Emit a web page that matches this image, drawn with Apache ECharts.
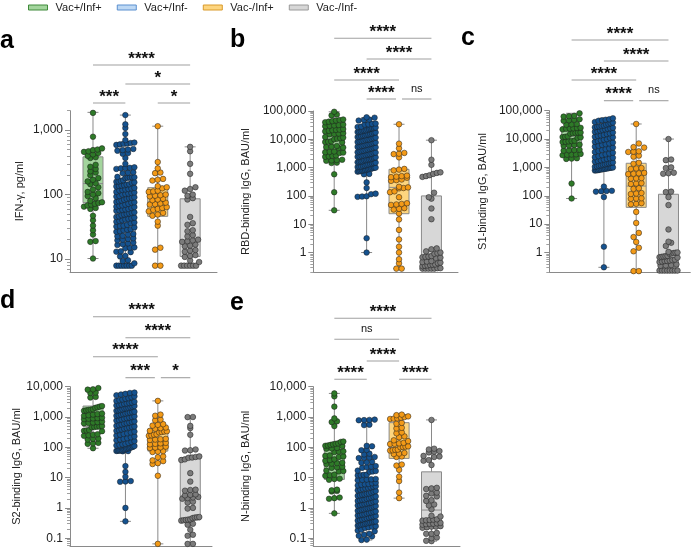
<!DOCTYPE html>
<html><head><meta charset="utf-8">
<script src="https://cdn.jsdelivr.net/npm/echarts@6/dist/echarts.min.js"></script>
<style>html,body{margin:0;padding:0;background:#fff}#chart{width:691px;height:548px}</style>
</head><body><div id="chart"></div>
<script>
// ---------------- DATA ----------------
const groups = ['Vac+/Inf+', 'Vac+/Inf-', 'Vac-/Inf+', 'Vac-/Inf-'];

// Panel a: IFN-γ, pg/ml
const ifnTicks = [10, 100, 1000];
const ifnGreen = [1850, 790, 520, 500, 490, 470, 460, 440, 420, 400, 380, 370, 290, 270, 250, 230, 220, 200, 180, 170, 160, 150, 145, 130, 120, 110, 105, 100, 95, 88, 80, 76, 74, 72, 70, 68, 65, 62, 60, 47, 40, 33, 28, 24, 19, 18.5, 10.2];
const ifnBlue = [1710, 1230, 1080, 870, 700, 640, 630, 620, 615, 600, 590, 510, 500, 490, 480, 440, 430, 370, 300, 265, 260, 258, 255, 250, 222, 218, 214,
  188, 186, 185, 184, 182, 180, 160, 158, 163, 155, 167, 152, 140, 138, 143, 136, 145, 134, 122, 120, 125, 118, 127, 116,
  106, 104, 108, 102, 110, 100, 91, 89, 93, 88, 95, 86, 79, 77, 81, 76, 83, 75, 68, 67, 70, 65, 72, 64, 59, 58, 60, 57, 62, 56,
  51, 50, 52, 49, 53, 48, 44, 43, 45, 42, 46, 41, 38, 37, 39, 36, 40, 32.5, 32, 33, 31, 34, 28, 27, 28.5, 26.5, 29,
  24, 23, 24.5, 22.5, 20.5, 20, 21, 19.5, 17.5, 17, 18, 16.5, 15.2, 15, 14.7, 13.2, 13, 12.8, 11.2, 11, 9.6, 9.3, 8.6,
  7.9, 7.9, 7.9, 7.9, 7.9, 7.9, 7.9];
const ifnOrange = [1150, 320, 255, 220, 215, 175, 170, 165, 135, 130, 125, 115, 112, 110, 100, 98, 96, 94, 86, 84, 82, 75, 73, 71, 70, 64, 62, 60, 58, 55, 52, 49, 47, 38, 33, 15, 14, 7.9, 7.9];
const ifnGray = [550, 470, 300, 210, 130, 122, 115, 100, 96, 88, 84, 45, 36, 34, 28, 27, 23.5, 22.5, 20, 19.5, 19, 18.5, 16.8, 16.2, 15.8, 13.8, 13.5, 13, 11.5, 11.2, 10.8, 9.5, 9, 7.9, 7.9, 7.9, 7.9, 7.9, 7.9];
// [min, Q1, median, Q3, max]
const ifnBox = [[10.2, 75, 148, 385, 1885], [7.9, 22, 50, 150, 1710], [7.9, 46, 77, 128, 1150], [7.9, 11, 19.5, 86, 550]];
const ifnBrackets = [[0, 3, 0, '****'], [1, 3, 1, '*'], [0, 1, 2, '***'], [2, 3, 2, '*']];

// Panel b: RBD-binding IgG
const rbdTicks = [1, 10, 100, 1000, 10000, 100000];
const rbdGreen = [94000, 75000, 70000, 50000, 48000, 46000, 44000, 42000, 40000, 33000, 32000, 31000, 30000, 29000, 23000, 22000, 21500, 21000, 20000, 19000, 16500, 16000, 15500, 15000, 12000, 11500, 11000, 10500, 10000, 8500, 8200, 8000, 7800, 5800, 5500, 5300, 5100, 4900, 3700, 3600, 3500, 3400, 3300, 2700, 2600, 2500, 2400, 1900, 1850, 1800, 1750, 1500, 1450, 580, 135, 31];
const rbdBlue = [60000, 58000, 50000, 48000, 46000, 36000, 35000, 34000, 33000,
  28000, 27000, 26000, 25000, 24500, 24000, 23000, 22000, 21000, 20500, 20000, 19000, 18500, 18000, 17500, 17000, 16000, 15500, 15000, 14500,
  14000, 13500, 13000, 12500, 12000, 11500, 11000, 10500, 10000, 9800, 9500, 9000, 8700, 8400, 8000, 7700, 7400, 7100, 6800, 6500,
  6300, 6000, 5800, 5600, 5400, 5200, 5000, 4800, 4600, 4400, 4200, 4000, 3900, 3700, 3500, 3400, 3300, 3100, 3000, 2900,
  2800, 2700, 2600, 2500, 2400, 2300, 2200, 2100, 2000, 1950, 1900, 1850, 1800, 1700, 1650, 1600, 1550, 1500, 1450, 1400,
  1350, 1300, 1250, 1200, 1150, 1100, 1080, 1050, 1000, 980, 950, 920, 900, 880, 850, 820, 800, 780, 760, 740, 720, 600, 580,
  300, 190, 120, 115, 97, 95, 93, 3.2, 1.0];
const rbdOrange = [34000, 7000, 4800, 3300, 3100, 3000, 2300, 900, 850, 800, 520, 500, 480, 460, 440, 380, 360, 340, 210, 200, 190, 185, 145, 135, 90, 55, 52, 50, 48, 37, 35, 33, 24, 14.8, 6.3, 2.9, 1.6, 1.0, 0.58, 0.42, 0.27, 0.27];
const rbdGray = [9300, 1900, 1250, 680, 650, 600, 540, 500, 470, 130, 90, 80, 36, 15, 1.4, 1.3, 1.1, 1.0, 0.95, 0.9, 0.75, 0.72, 0.7, 0.68, 0.66, 0.64, 0.5, 0.48, 0.46, 0.44, 0.42, 0.38, 0.37, 0.36, 0.35, 0.34, 0.33, 0.28, 0.28, 0.27, 0.27, 0.27, 0.27, 0.27];
const rbdBox = [[31, 3400, 10000, 30000, 94000], [1.0, 1070, 4500, 28000, 58000], [0.27, 23.5, 200, 870, 34000], [0.27, 0.3, 0.7, 100, 9300]];
const rbdBrackets = [[0, 3, 0, '****'], [1, 3, 1, '****'], [0, 2, 2, '****'], [1, 2, 3, '****'], [2, 3, 3, 'ns']];

// Panel c: S1-binding IgG
const s1Ticks = [1, 10, 100, 1000, 10000, 100000];
const s1Green = [81000, 66000, 64000, 62000, 50000, 48000, 46000, 44000, 34000, 33000, 32000, 25000, 24500, 24000, 23500, 23000, 22000, 17000, 16800, 16500, 16000, 15500, 12500, 12000, 11800, 11500, 11000, 8800, 8500, 8300, 8000, 7800, 6400, 6200, 6000, 5800, 4200, 4100, 4000, 3900, 3000, 2900, 2850, 2800, 2700, 2100, 2050, 2000, 270, 80];
const s1Blue = [54000, 50000, 48000, 46000, 44000, 40000, 38000, 36000, 34000, 32000,
  30000, 29000, 28000, 27000, 26000, 25000, 24000, 23000, 22000, 21000, 20000, 19000, 18000, 17000, 16000, 15000, 14000, 13500, 13000, 12000,
  11500, 11000, 10000, 9500, 9000, 8500, 8000, 7500, 7000, 6600, 6200, 5800, 5400, 5000, 4700, 4400, 4100, 3800, 3500, 3300,
  3100, 2900, 2700, 2500, 2300, 2200, 2100, 2000, 1900, 1800, 1700, 1600, 1500, 1450, 1400, 1350, 1300, 1250, 1200, 1150,
  1100, 1050, 1000, 980, 960, 940, 920, 900, 880, 860, 840, 820, 800, 790, 780,
  210, 150, 148, 145, 140, 90, 1.6, 0.3];
const s1Orange = [34000, 7000, 5200, 5000, 3700, 3600, 3500, 2600, 2400, 1450, 1350, 950, 920, 880, 640, 620, 600, 580, 420, 410, 400, 280, 270, 260, 185, 175, 125, 120, 115, 82, 80, 78, 55, 52, 50, 27, 11, 4.9, 3.5, 2.35, 1.47, 1.1, 0.22, 0.22];
const s1Gray = [10000, 1900, 1800, 1000, 950, 650, 620, 600, 140, 135, 90, 47, 6.5, 2.4, 2.2, 1.7, 1.05, 1.0, 0.98, 0.95, 0.92, 0.9, 0.76, 0.74, 0.72, 0.7, 0.68, 0.66, 0.56, 0.54, 0.52, 0.5, 0.5, 0.48, 0.46, 0.38, 0.36, 0.35, 0.34, 0.23, 0.23, 0.23, 0.23, 0.23, 0.23, 0.23, 0.23];
const s1Box = [[80, 5400, 12700, 27000, 81000], [0.3, 1000, 5000, 27000, 54000], [0.22, 39, 220, 1400, 34000], [0.23, 0.3, 0.63, 113, 10000]];
const s1Brackets = [[0, 3, 0, '****'], [1, 3, 1, '****'], [0, 2, 2, '****'], [1, 2, 3, '****'], [2, 3, 3, 'ns']];

// Panel d: S2-binding IgG
const s2Ticks = [0.1, 1, 10, 100, 1000, 10000];
const s2Green = [9000, 8200, 8000, 6400, 6200, 4600, 4400, 2300, 2200, 2100, 2000, 1800, 1750, 1700, 1650, 1600, 1300, 1250, 1200, 1150, 1100, 950, 920, 900, 880, 850, 700, 680, 660, 640, 620, 500, 490, 480, 470, 460, 370, 360, 350, 340, 270, 260, 250, 240, 195, 190, 180, 140, 135, 130, 93];
const s2Blue = [6400, 6200, 5800, 5500, 5200, 4800, 4500, 4200, 4000, 3800, 3600, 3400, 3200, 3000, 2900, 2800, 2700, 2600, 2500, 2400,
  2300, 2200, 2100, 2000, 1950, 1900, 1800, 1700, 1650, 1600, 1500, 1450, 1400, 1350, 1300, 1250, 1200, 1150, 1100, 1050,
  1000, 960, 920, 880, 840, 800, 760, 720, 690, 660, 630, 600, 570, 540, 510, 490, 470, 450, 430, 410,
  390, 370, 350, 330, 310, 290, 275, 260, 245, 230, 215, 200, 190, 180, 170, 160, 150, 140, 130, 125,
  120, 115, 110, 105, 100, 97, 94, 91, 88, 85, 82, 80, 79, 78, 77, 76, 75, 74,
  24, 15.5, 10.7, 7.7, 7.5, 7.3, 1.0, 0.36];
const s2Orange = [3400, 1200, 1100, 820, 780, 580, 550, 520, 450, 430, 410, 350, 340, 330, 320, 310, 270, 260, 250, 240, 190, 185, 180, 175, 140, 135, 130, 125, 105, 100, 98, 95, 75, 72, 70, 50, 47, 37, 35, 30, 28, 11.5, 0.065];
const s2Gray = [1000, 990, 510, 430, 260, 85, 80, 78, 50, 48, 46, 45, 40, 38, 14, 7.4, 4, 3.9, 3.7, 2.8, 2.7, 2.6, 2.3, 2.2, 2.1, 2.0, 1.6, 1.5, 1.0, 0.95, 0.5, 0.49, 0.48, 0.46, 0.42, 0.41, 0.4, 0.39, 0.38, 0.3, 0.28, 0.19, 0.13, 0.12, 0.065, 0.065];
const s2Box = [[93, 480, 750, 2300, 9000], [0.36, 150, 500, 2000, 6500], [0.065, 75, 175, 400, 3400], [0.065, 0.4, 2.5, 46, 1000]];
const s2Brackets = [[0, 3, 0, '****'], [1, 3, 1, '****'], [0, 2, 2, '****'], [1, 2, 3, '***'], [2, 3, 3, '*']];

// Panel e: N-binding IgG
const nTicks = [0.1, 1, 10, 100, 1000, 10000];
const nGreen = [6000, 4800, 2200, 900, 720, 680, 500, 155, 150, 135, 130, 125, 120, 115, 112, 110, 95, 92, 90, 74, 72, 70, 54, 52, 50, 48, 40, 38, 36, 31, 30, 29, 28, 23, 22, 21, 17, 16.5, 16, 12.5, 12, 11.5, 9.2, 9, 8.5, 4, 3.8, 3.6, 3.5, 2.2, 2.1, 2.0, 0.66];
const nBlue = [820, 800, 790, 780, 560, 540,
  112, 108, 82, 80, 62, 58, 48, 46, 45, 44, 33, 32, 31, 24, 23, 22, 21, 17, 16.5, 16, 15.5, 12.5, 12.3, 12, 11.8, 9, 8.8, 8.6, 8.4, 8.2,
  6.8, 6.5, 6.2, 6, 5.8, 5.5, 5.2, 5, 4.8, 4.6, 4.4, 4.2, 4, 3.8, 3.6, 3.4, 3.2, 3.0, 2.9, 2.8, 2.7, 2.6, 2.5, 2.4, 2.3, 2.2, 2.1, 2.0,
  1.9, 1.85, 1.8, 1.7, 1.65, 1.6, 1.5, 1.45, 1.4, 1.35, 1.3, 1.25, 1.2, 1.15, 1.1, 1.05, 1.0, 0.97, 0.94, 0.9, 0.87, 0.84, 0.8, 0.77,
  0.74, 0.71, 0.68, 0.65, 0.62, 0.6, 0.58, 0.56, 0.54, 0.52, 0.5, 0.48, 0.46, 0.44, 0.42, 0.4, 0.38, 0.36, 0.35, 0.34, 0.33, 0.32,
  0.31, 0.3, 0.29, 0.28, 0.27, 0.26, 0.25, 0.24, 0.23, 0.22, 0.19, 0.18, 0.17, 0.14, 0.13, 0.12, 0.115, 0.09, 0.087];
const nOrange = [1200, 1150, 1050, 1000, 950, 900, 880, 860, 640, 600, 440, 420, 310, 290, 230, 215, 170, 160, 140, 135, 130, 128, 108, 105, 102, 100, 84, 82, 80, 78, 65, 62, 60, 50, 48, 27, 25, 18, 10.7, 7.7, 3.2, 2.1];
const nGray = [800, 90, 85, 75, 72, 68, 52, 50, 48, 38, 36, 26, 4.6, 4.4, 4.2, 3.2, 3.0, 2.5, 2.4, 1.8, 1.7, 1.3, 1.2, 0.9, 0.55, 0.52, 0.42, 0.41, 0.4, 0.39, 0.38, 0.32, 0.31, 0.3, 0.3, 0.29, 0.28, 0.25, 0.24, 0.24, 0.23, 0.22, 0.15, 0.14, 0.14, 0.105, 0.1, 0.082, 0.08];
const nBox = [[0.66, 8.7, 30, 112, 6000], [0.087, 0.5, 1.5, 5, 800], [2.1, 43, 100, 650, 1200], [0.08, 0.3, 0.85, 15.5, 800]];
const nBrackets = [[0, 3, 0, '****'], [0, 2, 1, 'ns'], [1, 2, 2, '****'], [0, 1, 3, '****'], [2, 3, 3, '****']];

// ---------------- STYLE / LAYOUT ----------------
const FONT = '"Liberation Sans", Arial, Helvetica, sans-serif';
const dotColors = ['#2e7a28', '#15528f', '#f39a17', '#7b7b7b'];
const boxFills = ['#a3d59d', '#bdd8f4', '#fdd57f', '#d7d7d7'];
const legendBorders = ['#3f8a3a', '#5a8fcf', '#d99a2b', '#9a9a9a'];
const AXIS = '#8a8a8a';
const BOX_STROKE = '#8a8a8a';
const BRACKET = '#a0a0a0';

const panels = [
  { letter: 'a', name: 'IFN-\u03b3, pg/ml', data: [ifnGreen, ifnBlue, ifnOrange, ifnGray], box: ifnBox, brackets: ifnBrackets, ticks: ifnTicks,
    L: { left: 70, top: 110.7, width: 147, height: 161.3, xMin: -0.71, xMax: 3.83, yMin: 6.3, yMax: 2000, rows: [45.7, 26.7, 7.7], nameGap: 45, lx: 0, ly: 41 } },
  { letter: 'b', name: 'RBD-binding IgG, BAU/ml', data: [rbdGreen, rbdBlue, rbdOrange, rbdGray], box: rbdBox, brackets: rbdBrackets, ticks: rbdTicks,
    L: { left: 313.3, top: 111, width: 144.7, height: 161.3, xMin: -0.645, xMax: 3.82, yMin: 0.2, yMax: 100000, rows: [72.7, 52, 31, 12], nameGap: 62, lx: 230, ly: 40 } },
  { letter: 'c', name: 'S1-binding IgG, BAU/ml', data: [s1Green, s1Blue, s1Orange, s1Gray], box: s1Box, brackets: s1Brackets, ticks: s1Ticks,
    L: { left: 549.3, top: 110.7, width: 141, height: 161.6, xMin: -0.69, xMax: 3.675, yMin: 0.2, yMax: 100000, rows: [70.7, 49.7, 30.7, 10], nameGap: 61, lx: 461, ly: 38 } },
  { letter: 'd', name: 'S2-binding IgG, BAU/ml', data: [s2Green, s2Blue, s2Orange, s2Gray], box: s2Box, brackets: s2Brackets, ticks: s2Ticks,
    L: { left: 70, top: 386.7, width: 142, height: 159.3, xMin: -0.71, xMax: 3.67, yMin: 0.0553, yMax: 10000, rows: [70, 49, 30, 9], nameGap: 47, lx: 0, ly: 301 } },
  { letter: 'e', name: 'N-binding IgG, BAU/ml', data: [nGreen, nBlue, nOrange, nGray], box: nBox, brackets: nBrackets, ticks: nTicks,
    L: { left: 313.3, top: 386.7, width: 146.7, height: 159.3, xMin: -0.65, xMax: 3.88, yMin: 0.0553, yMax: 10000, rows: [68.4, 47.4, 25.7, 7.4], nameGap: 62, lx: 230, ly: 303 } }
];

const BIN_H = 5, DOT_GAP = 5.3, MAX_SPAN = 18, DOT = 5.6;

function swarm(values, gi, L) {
  const lo = Math.log10(L.yMin), hi = Math.log10(L.yMax);
  const pxPerDec = L.height / (hi - lo);
  const unitPerPx = (L.xMax - L.xMin) / L.width;
  const sorted = values.slice().sort((a, b) => a - b);
  const bins = new Map();
  sorted.forEach(v => {
    const k = Math.floor((Math.log10(v) - lo) * pxPerDec / BIN_H);
    if (!bins.has(k)) bins.set(k, []);
    bins.get(k).push(v);
  });
  const out = [];
  bins.forEach(arr => {
    const n = arr.length;
    const s = n > 1 ? Math.min(DOT_GAP, MAX_SPAN / (n - 1)) : 0;
    arr.forEach((v, j) => out.push([gi + (j - (n - 1) / 2) * s * unitPerPx, v]));
  });
  return out;
}

function minorTicks(lo, hi) {
  const out = [];
  for (let k = Math.floor(Math.log10(lo)) - 1; k <= Math.ceil(Math.log10(hi)); k++) {
    for (let m = 2; m <= 9; m++) {
      const v = +(m * Math.pow(10, k)).toPrecision(3);
      if (v >= lo && v <= hi) out.push(v);
    }
  }
  return out;
}

function fmt(v) {
  if (v < 1) return String(+Number(v).toPrecision(3));
  return String(Math.round(v)).replace(/\B(?=(\d{3})+(?!\d))/g, ',');
}

function boxRender(params, api) {
  const g = api.value(0);
  const mn = api.coord([g, api.value(1)]);
  const q1 = api.coord([g, api.value(2)]);
  const md = api.coord([g, api.value(3)]);
  const q3 = api.coord([g, api.value(4)]);
  const mx = api.coord([g, api.value(5)]);
  const cx = mn[0];
  const st = { stroke: BOX_STROKE, lineWidth: 1 };
  return { type: 'group', children: [
    { type: 'line', shape: { x1: cx, y1: mx[1], x2: cx, y2: mn[1] }, style: st },
    { type: 'line', shape: { x1: cx - 5.5, y1: mx[1], x2: cx + 5.5, y2: mx[1] }, style: st },
    { type: 'line', shape: { x1: cx - 5.5, y1: mn[1], x2: cx + 5.5, y2: mn[1] }, style: st },
    { type: 'rect', shape: { x: cx - 10, y: q3[1], width: 20, height: q1[1] - q3[1] }, style: { fill: boxFills[g], stroke: BOX_STROKE, lineWidth: 1 } },
    { type: 'line', shape: { x1: cx - 10, y1: md[1], x2: cx + 10, y2: md[1] }, style: st }
  ] };
}

function makeBracketRender(p) {
  const L = p.L, br = p.brackets;
  return function (params, api) {
    const b = br[params.dataIndex];
    const top = api.coord([0, L.yMax])[1];
    const y = top - L.rows[b[2]];
    let x1 = api.coord([b[0], L.yMax])[0];
    let x2 = api.coord([b[1], L.yMax])[0];
    const shared = (g) => br.some((o, k) => k !== params.dataIndex && o[2] === b[2] && (o[0] === g || o[1] === g));
    if (shared(b[0])) x1 += 3;
    if (shared(b[1])) x2 -= 3;
    const isStar = b[3] !== 'ns';
    return { type: 'group', children: [
      { type: 'line', shape: { x1: x1, y1: y, x2: x2, y2: y }, style: { stroke: BRACKET, lineWidth: 1.1 } },
      { type: 'text', style: { text: b[3], x: (x1 + x2) / 2, y: isStar ? y - 6 : y - 10.5, align: 'center', verticalAlign: 'middle',
        font: isStar ? 'bold 17px ' + FONT : '11px ' + FONT, fill: '#111' } }
    ] };
  };
}

const grids = [], xAxes = [], yMain = [], yMinor = [], series = [], graphics = [];
panels.forEach((p, i) => {
  const L = p.L;
  grids.push({ left: L.left, top: L.top, width: L.width, height: L.height });
  xAxes.push({ type: 'value', gridIndex: i, min: L.xMin, max: L.xMax,
    axisLine: { show: true, onZero: false, lineStyle: { color: AXIS, width: 1 } },
    axisTick: { show: false }, axisLabel: { show: false }, splitLine: { show: false } });
  yMain.push({ type: 'log', logBase: 10, gridIndex: i, position: 'left', min: L.yMin, max: L.yMax,
    name: p.name, nameLocation: 'middle', nameGap: L.nameGap,
    nameTextStyle: { fontSize: 11, color: '#222', fontFamily: FONT },
    axisLine: { show: true, onZero: false, lineStyle: { color: AXIS, width: 1 } },
    axisTick: { show: true, length: 5, customValues: p.ticks, lineStyle: { color: AXIS } },
    axisLabel: { customValues: p.ticks, formatter: fmt, fontSize: 12, color: '#222', fontFamily: FONT, margin: 7 },
    splitLine: { show: false }, minorTick: { show: false } });
  yMinor.push({ type: 'log', logBase: 10, gridIndex: i, position: 'left', offset: 0, min: L.yMin, max: L.yMax,
    axisLine: { show: false, onZero: false },
    axisTick: { show: true, length: 3, customValues: minorTicks(L.yMin, L.yMax), lineStyle: { color: '#a0a0a0' } },
    axisLabel: { show: false }, splitLine: { show: false } });
  series.push({ type: 'custom', xAxisIndex: i, yAxisIndex: i, silent: true, z: 1, clip: false,
    data: p.box.map((s, g) => [g].concat(s)), encode: { x: 0, y: [1, 2, 3, 4, 5] }, renderItem: boxRender });
  p.data.forEach((vals, g) => {
    series.push({ type: 'scatter', name: groups[g], xAxisIndex: i, yAxisIndex: i, z: 3, silent: true,
      symbol: 'circle', symbolSize: DOT, data: swarm(vals, g, L),
      itemStyle: { color: dotColors[g], borderColor: '#1b1b1b', borderWidth: 0.5, opacity: 1 } });
  });
  series.push({ type: 'custom', xAxisIndex: i, yAxisIndex: i, silent: true, z: 4, clip: false,
    data: p.brackets.map(b => [b[0], b[1], L.yMax]), encode: { x: [0, 1], y: 2 }, renderItem: makeBracketRender(p) });
  graphics.push({ type: 'text', x: L.lx, y: L.ly, style: { text: p.letter, font: 'bold 25px ' + FONT, fill: '#000', verticalAlign: 'middle' } });
});

const option = {
  animation: false,
  backgroundColor: '#fff',
  legend: { left: 23, top: -3, itemWidth: 19, itemHeight: 5, itemGap: 15, icon: 'rect', selectedMode: false,
    textStyle: { fontSize: 11, color: '#222', fontFamily: FONT, padding: [0, 0, 0, 3] },
    data: groups.map((g, i) => ({ name: g, itemStyle: { color: boxFills[i], borderColor: legendBorders[i], borderWidth: 1 } })) },
  grid: grids,
  xAxis: xAxes,
  yAxis: yMain.concat(yMinor),
  series: series,
  graphic: graphics
};

const chart = echarts.init(document.getElementById('chart'), null, { renderer: 'canvas' });
chart.setOption(option);
</script></body></html>
